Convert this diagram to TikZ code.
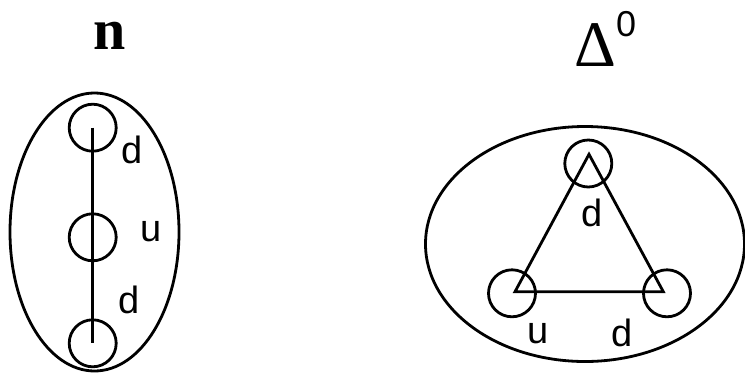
\documentclass[tikz,border=0pt]{standalone}
\usepackage{fontspec}
\setmainfont{Liberation Sans}
\newfontfamily\titlefont{Liberation Serif}
\usetikzlibrary{positioning}

\tikzset{
    quark/.style={circle, draw, line width=2.8pt, minimum size=47pt, inner sep=0pt},
    flavour/.style={inner sep=0pt, font=\fontsize{38}{40}\selectfont},
    bag/.style={line width=2.8pt},
}

\begin{document}
\begin{tikzpicture}[x=1pt, y=-1pt]
    \useasboundingbox (0,0) rectangle (745,373);

    % neutron
    \node[inner sep=0pt, font=\titlefont\bfseries\fontsize{58}{60}\selectfont] (ntitle) at (109.5,35.5) {n};
    \draw[bag] (94.5,232) ellipse [x radius=84.5, y radius=139];
    \node[quark] (q1) at (92.7,127.7) {};
    \node[quark] (q2) at (92.7,237.3) {};
    \node[quark] (q3) at (92.7,343.3) {};
    \draw[bag] (q1.center) -- (q2.center) -- (q3.center);
    \node[flavour] (f1) at (132,150) {d};
    \node[flavour] (f2) at (151,232) {u};
    \node[flavour] (f3) at (129,300) {d};

    % delta
    \node[inner sep=0pt, anchor=base west, font=\titlefont\fontsize{65}{67}\selectfont] (dtitle) at (574,66.7)
        {Δ\raisebox{30pt}{\normalfont\fontsize{36}{38}\selectfont 0}};
    \draw[bag] (585,244) ellipse [x radius=159.5, y radius=117.5];
    \coordinate (v1) at (589,154.3);
    \coordinate (v2) at (515,291.7);
    \coordinate (v3) at (663.3,291.7);
    \node[quark] (p1) at (588.3,163.5) {};
    \node[quark] (p2) at (512,293.3) {};
    \node[quark] (p3) at (667,293.3) {};
    \draw[bag, line join=miter] (v1) -- (v2) -- (v3) -- cycle;
    \node[flavour] (g1) at (592.3,213.3) {d};
    \node[flavour] (g2) at (538.3,333.3) {u};
    \node[flavour] (g3) at (621.7,333.3) {d};
\end{tikzpicture}
\end{document}
